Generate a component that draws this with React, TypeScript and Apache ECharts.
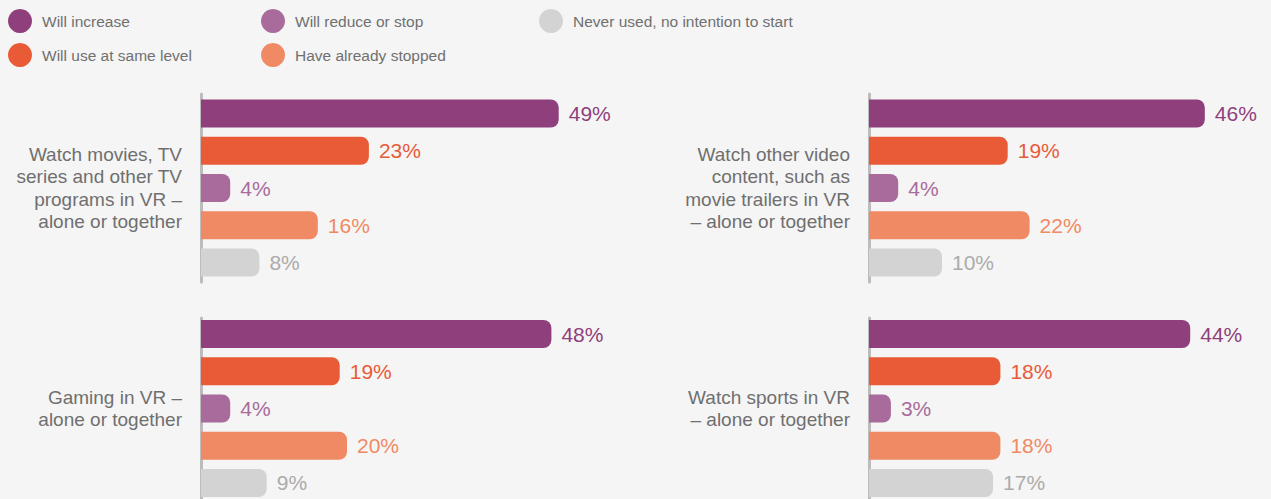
import React, { useEffect, useRef } from "react";
import * as echarts from "echarts";

const responses = [
  "Will increase",
  "Will use at same level",
  "Will reduce or stop",
  "Have already stopped",
  "Never used, no intention to start",
];
const barColors = ["#8f3f7b", "#e95b37", "#a86b9b", "#f08a64", "#d3d3d3"];
const labelColors = ["#8f3f7b", "#e95b37", "#a86b9b", "#f08a64", "#ababab"];

const activities = [
  "Watch movies, TV\nseries and other TV\nprograms in VR –\nalone or together",
  "Watch other video\ncontent, such as\nmovie trailers in VR\n– alone or together",
  "Gaming in VR –\nalone or together",
  "Watch sports in VR\n– alone or together",
];

const moviesValues = [49, 23, 4, 16, 8];
const otherVideoValues = [46, 19, 4, 22, 10];
const gamingValues = [48, 19, 4, 20, 9];
const sportsValues = [44, 18, 3, 18, 17];

const FONT = "'Liberation Sans', Arial, Helvetica, sans-serif";

export default function App() {
  const ref = useRef<HTMLDivElement>(null);

  useEffect(() => {
    if (!ref.current) return;
    const chart = echarts.init(ref.current, undefined, { renderer: "svg" });
    const panelValues = [moviesValues, otherVideoValues, gamingValues, sportsValues];
    const gridPos = [
      { left: 201, top: 94 },
      { left: 869, top: 94 },
      { left: 201, top: 318 },
      { left: 869, top: 318 },
    ];
    const grids = gridPos.map((p) => ({ left: p.left, top: p.top, width: 365, height: 188, containLabel: false }));
    const xAxes = gridPos.map((_, i) => ({
      type: "value",
      gridIndex: i,
      min: 0,
      max: 50,
      show: false,
    }));
    const yAxes = gridPos.map((_, i) => ({
      type: "category",
      gridIndex: i,
      data: [activities[i]],
      axisTick: { show: false },
      axisLine: { show: true, lineStyle: { color: "#bcbcbc", width: 3 } },
      axisLabel: {
        fontFamily: FONT,
        fontSize: 19,
        lineHeight: 22.5,
        color: "#6f6f6f",
        margin: 19,
      },
    }));
    const series: any[] = [];
    panelValues.forEach((vals, gi) => {
      responses.forEach((name, si) => {
        series.push({
          type: "bar",
          name,
          xAxisIndex: gi,
          yAxisIndex: gi,
          data: [vals[si]],
          barWidth: 28,
          barGap: "33%",
          itemStyle: { color: barColors[si], borderRadius: [0, 8, 8, 0] },
          label: {
            show: true,
            position: "right",
            distance: 10,
            formatter: "{c}%",
            fontFamily: FONT,
            fontSize: 21,
            color: labelColors[si],
          },
        });
      });
    });
    const legendCommon = {
      orient: "vertical",
      top: 4,
      itemWidth: 24,
      itemHeight: 24,
      itemGap: 10,
      icon: "circle",
      selectedMode: false,
      textStyle: { fontFamily: FONT, fontSize: 15.5, color: "#707070", padding: [0, 0, 0, 5] },
    };
    chart.setOption({
      animation: false,
      backgroundColor: "#f5f5f5",
      textStyle: { fontFamily: FONT },
      legend: [
        { ...legendCommon, left: 3, data: [responses[0], responses[1]] },
        { ...legendCommon, left: 256, data: [responses[2], responses[3]] },
        { ...legendCommon, left: 534, data: [responses[4]] },
      ],
      grid: grids,
      xAxis: xAxes,
      yAxis: yAxes,
      series,
    });
    return () => chart.dispose();
  }, []);

  return (
    <div
      ref={ref}
      style={{ position: "fixed", left: 0, top: 0, width: 1271, height: 499 }}
    />
  );
}
